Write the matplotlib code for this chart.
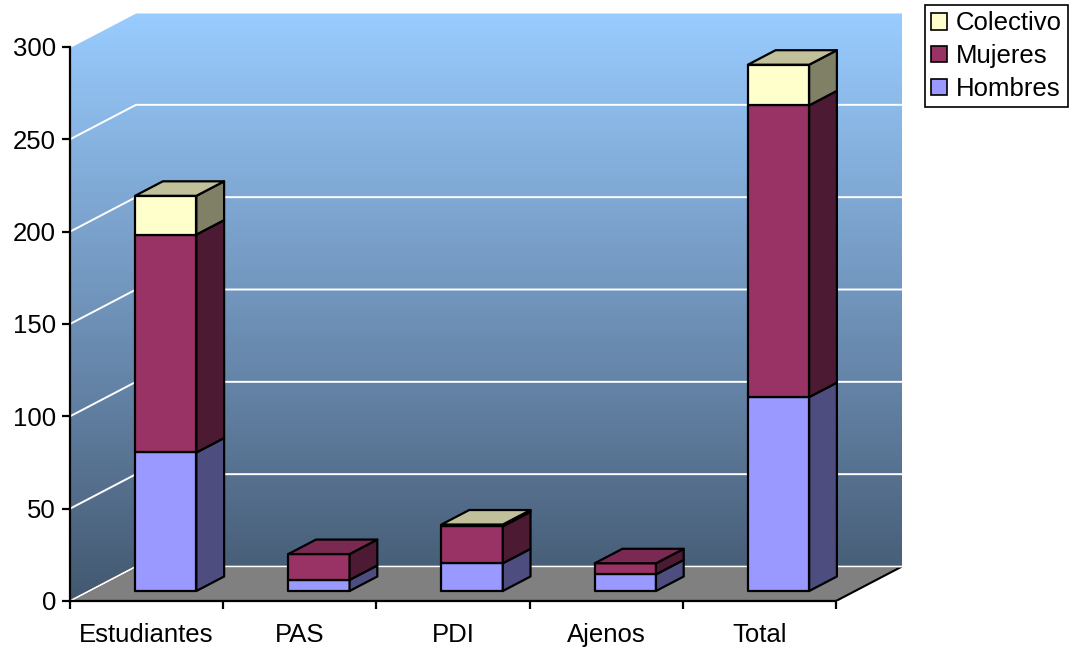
import numpy as np
import matplotlib
matplotlib.use("Agg")
import matplotlib.pyplot as plt
from matplotlib.patches import Polygon, Patch
from matplotlib.colors import LinearSegmentedColormap

plt.rcParams['font.family'] = ['Liberation Sans', 'DejaVu Sans']

categories = ["Estudiantes", "PAS", "PDI", "Ajenos", "Total"]
hombres = [75, 6, 15, 9, 105]
mujeres = [118, 14, 20, 6, 158]
colectivo = [21, 0, 1, 0, 22]
series_names = ["Hombres", "Mujeres", "Colectivo"]
yticks = [0, 50, 100, 150, 200, 250, 300]

# face colours per series: front, side, top
faces = {
    "Hombres": ("#9999FF", "#4D4D80", "#7A7ACC"),
    "Mujeres": ("#993366", "#4D1A33", "#7A2952"),
    "Colectivo": ("#FFFFCC", "#808066", "#C0C09A"),
}

W, H = 1070, 651
fig = plt.figure(figsize=(W / 100, H / 100), dpi=100)

n = len(categories)
ymax = 300
px_per_cat = (836 - 70) / n
px_per_val = (601 - 47) / ymax
DX = 66 / px_per_cat          # depth offset in category units
DY = 34.5 / px_per_val        # depth offset in value units

ax_w = (n + DX) * px_per_cat
ax_h = (ymax + DY) * px_per_val
ax = fig.add_axes([70 / W, (H - 601) / H, ax_w / W, ax_h / H])
ax.set_xlim(0, n + DX)
ax.set_ylim(0, ymax + DY)

# walls with vertical gradient
cmap = LinearSegmentedColormap.from_list("wall", ["#435870", "#7093BA", "#99CCFF"])
grad = np.linspace(0, 1, 256).reshape(-1, 1)
im = ax.imshow(grad, cmap=cmap, origin="lower", aspect="auto",
               extent=[0, n + DX, 0, ymax + DY], zorder=0)
wall = Polygon([(0, 0), (0, ymax), (DX, ymax + DY), (n + DX, ymax + DY),
                (n + DX, DY), (DX, DY)], closed=True, facecolor="none",
               edgecolor="none", transform=ax.transData)
ax.add_patch(wall)
im.set_clip_path(wall)

# floor
floor = Polygon([(0, 0), (n, 0), (n + DX, DY), (DX, DY)], closed=True,
                facecolor="#808080", edgecolor="black", linewidth=1.5, zorder=2)
ax.add_patch(floor)

# gridlines on the side and back walls
for v in yticks:
    ax.plot([0, DX, n + DX], [v, v + DY, v + DY], color="white", lw=1.4,
            zorder=1.5 if v > 0 else 2.5, solid_capstyle="butt")

# 3D stacked bars
f0, f1 = 0.29, 0.71
bw = 0.4
ddx, ddy = (f1 - f0) * DX, (f1 - f0) * DY
stack = {"Hombres": hombres, "Mujeres": mujeres, "Colectivo": colectivo}
z = 3
for i in range(n):
    x0 = i + 0.5 - bw / 2 + f0 * DX
    x1 = x0 + bw
    base = f0 * DY
    segs = [(s, stack[s][i]) for s in series_names if stack[s][i] > 0]
    for k, (s, val) in enumerate(segs):
        front, side, top = faces[s]
        y0, y1 = base, base + val
        kw = dict(closed=True, edgecolor="black", linewidth=1.6, joinstyle="round")
        ax.add_patch(Polygon([(x0, y0), (x1, y0), (x1, y1), (x0, y1)],
                             facecolor=front, zorder=z, **kw))
        ax.add_patch(Polygon([(x1, y0), (x1 + ddx, y0 + ddy), (x1 + ddx, y1 + ddy), (x1, y1)],
                             facecolor=side, zorder=z, **kw))
        if k == len(segs) - 1:
            ax.add_patch(Polygon([(x0, y1), (x1, y1), (x1 + ddx, y1 + ddy), (x0 + ddx, y1 + ddy)],
                                 facecolor=top, zorder=z, **kw))
        z += 0.01
        base = y1

# axes lines and ticks
for s in ["top", "right"]:
    ax.spines[s].set_visible(False)
ax.spines["left"].set_bounds(0, ymax)
ax.spines["bottom"].set_bounds(0, n)
for s in ["left", "bottom"]:
    ax.spines[s].set_linewidth(1.6)
    ax.spines[s].set_zorder(10)
ax.set_yticks(yticks)
ax.set_yticklabels([str(v) for v in yticks], fontsize=18.5)
ax.set_xticks(np.arange(0, n + 1))
ax.set_xticklabels([])
ax.set_xticks(np.arange(n) + 0.5, minor=True)
ax.set_xticklabels(categories, minor=True, fontsize=18.5)
ax.tick_params(axis="y", direction="out", length=6, width=1.6, pad=4)
ax.tick_params(axis="x", which="major", direction="out", length=6, width=1.6)
ax.tick_params(axis="x", which="minor", length=0, pad=16)

# legend
handles = [Patch(facecolor=faces[s][0], edgecolor="black", linewidth=1.2, label=s)
           for s in ["Colectivo", "Mujeres", "Hombres"]]
leg = fig.legend(handles=handles, loc="upper right",
                 bbox_to_anchor=(1068 / W, 1 - 5 / H), fontsize=18.5,
                 frameon=True, fancybox=False, edgecolor="black", framealpha=1,
                 handlelength=0.6, handleheight=0.6, handletextpad=0.35,
                 labelspacing=0.34, borderpad=0.25, borderaxespad=0)
leg.get_frame().set_linewidth(1.2)

fig.savefig("out.png", dpi=100)
